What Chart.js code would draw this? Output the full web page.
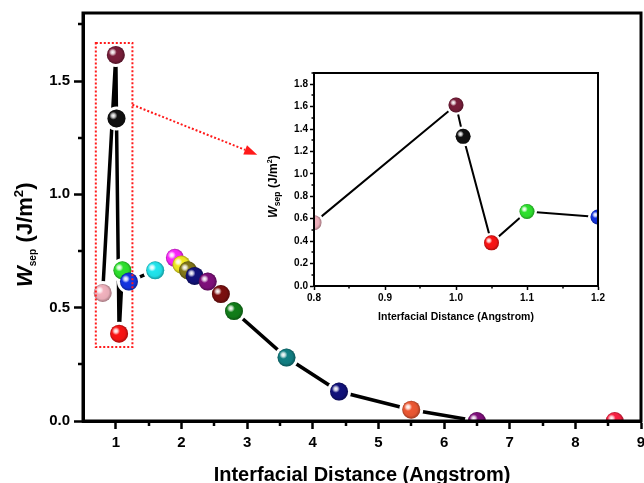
<!DOCTYPE html>
<html>
<head>
<meta charset="utf-8">
<script src="https://cdn.jsdelivr.net/npm/chart.js@4"></script>
<style>
  body { margin: 0; background: #fff; overflow: hidden; }
  #wrap { position: relative; width: 644px; height: 483px; overflow: hidden; }
  #mainChart { position: absolute; left: 0; top: 0; }
  #insetChart { position: absolute; left: 260px; top: 60px; }
</style>
</head>
<body>
<div id="wrap">
  <canvas id="mainChart" width="652" height="483"></canvas>
  <canvas id="insetChart" width="384" height="270"></canvas>
</div>
<script>
// Interfacial distance (Angstrom) and separation work (J/m2)
const distances = [0.8, 1.0, 1.01, 1.05, 1.1, 1.2, 1.6, 1.9, 2.0, 2.1, 2.2, 2.4, 2.6, 2.8, 3.6, 4.4, 5.5, 6.5, 8.6];
const wsep = [0.565, 1.615, 1.335, 0.385, 0.665, 0.615, 0.665, 0.72, 0.69, 0.665, 0.64, 0.615, 0.56, 0.485, 0.28, 0.13, 0.05, 0, 0];
const sphereColors = [
  "#f6b6c2", "#7c1f3c", "#111111", "#ff1414", "#2ee62e", "#1434e6",
  "#22eaf2", "#ff28ff", "#f6ee22", "#857a1a", "#12127e", "#82107e",
  "#7e1010", "#12801a", "#128286", "#12127e", "#f25a34", "#82107e", "#ff2244",
];
const insetCount = 6; // first points shown in the zoomed inset

const FONT = "'Liberation Sans', Arial, sans-serif";

function drawSphere(ctx, x, y, r, color) {
  ctx.beginPath();
  ctx.arc(x, y, r, 0, Math.PI * 2);
  ctx.fillStyle = color;
  ctx.fill();
  const shade = ctx.createRadialGradient(x - r * 0.3, y - r * 0.3, r * 0.2, x, y, r);
  shade.addColorStop(0, "rgba(0,0,0,0)");
  shade.addColorStop(0.7, "rgba(0,0,0,0.06)");
  shade.addColorStop(1, "rgba(0,0,0,0.35)");
  ctx.fillStyle = shade;
  ctx.fill();
  const hx = x - r * 0.35, hy = y - r * 0.3;
  const hl = ctx.createRadialGradient(hx, hy, 0, hx, hy, r * 0.45);
  hl.addColorStop(0, "rgba(255,255,255,1)");
  hl.addColorStop(0.45, "rgba(255,255,255,0.75)");
  hl.addColorStop(1, "rgba(255,255,255,0)");
  ctx.fillStyle = hl;
  ctx.fill();
}

// rotated "W_sep (J/m^2)" title
function drawWsepTitle(ctx, x, y, s) {
  ctx.save();
  ctx.translate(x, y);
  ctx.rotate(-Math.PI / 2);
  ctx.fillStyle = "#000";
  ctx.textBaseline = "alphabetic";
  ctx.textAlign = "left";
  let px = 0;
  ctx.font = `italic bold ${s.w}px ${FONT}`;
  ctx.fillText("W", px, 0);
  px += ctx.measureText("W").width;
  ctx.font = `bold ${s.sub}px ${FONT}`;
  ctx.fillText("sep", px, s.sub * 0.4);
  px += ctx.measureText("sep").width + s.unit * 0.3;
  ctx.font = `bold ${s.unit}px ${FONT}`;
  ctx.fillText("(J/m", px, 0);
  px += ctx.measureText("(J/m").width;
  ctx.font = `bold ${s.unit * 0.6}px ${FONT}`;
  ctx.fillText("2", px, -s.unit * 0.42);
  px += ctx.measureText("2").width;
  ctx.font = `bold ${s.unit}px ${FONT}`;
  ctx.fillText(")", px, 0);
  ctx.restore();
}

function minorTicks(chart, xMinor, yMinor, len, width) {
  const ctx = chart.ctx;
  const { x, y } = chart.scales;
  const area = chart.chartArea;
  ctx.save();
  ctx.strokeStyle = "#000";
  ctx.lineWidth = width;
  ctx.beginPath();
  xMinor.forEach((v) => {
    const px = Math.round(x.getPixelForValue(v));
    ctx.moveTo(px, area.bottom);
    ctx.lineTo(px, area.bottom + len);
  });
  yMinor.forEach((v) => {
    const py = Math.round(y.getPixelForValue(v));
    ctx.moveTo(area.left, py);
    ctx.lineTo(area.left - len, py);
  });
  ctx.stroke();
  ctx.restore();
}

// spheres + frame + titles
function decorPlugin(cfg) {
  return {
    id: "decor",
    afterDatasetsDraw(chart) {
      const ctx = chart.ctx;
      const a = chart.chartArea;
      const pts = chart.getDatasetMeta(0).data;
      ctx.save();
      ctx.beginPath();
      ctx.rect(a.left, a.top, a.right - a.left, a.bottom - a.top);
      ctx.clip();
      // white gap around symbols
      pts.forEach((p) => {
        ctx.beginPath();
        ctx.arc(p.x, p.y, cfg.r + cfg.gap, 0, Math.PI * 2);
        ctx.fillStyle = "#fff";
        ctx.fill();
      });
      pts.forEach((p, i) => drawSphere(ctx, p.x, p.y, cfg.r, sphereColors[i]));
      ctx.restore();

      ctx.save();
      ctx.strokeStyle = "#000";
      ctx.lineWidth = cfg.frame;
      ctx.strokeRect(a.left, a.top, a.right - a.left, a.bottom - a.top);
      ctx.restore();
      minorTicks(chart, cfg.xMinor, cfg.yMinor, cfg.minorLen, cfg.minorWidth);
    },
    afterDraw(chart) {
      const ctx = chart.ctx;
      const a = chart.chartArea;
      drawWsepTitle(ctx, cfg.yTitleX, cfg.yTitleY, cfg.yTitle);
      ctx.save();
      ctx.fillStyle = "#000";
      ctx.font = `bold ${cfg.xTitleSize}px ${FONT}`;
      ctx.textAlign = "center";
      ctx.textBaseline = "alphabetic";
      ctx.fillText("Interfacial Distance (Angstrom)", (a.left + a.right) / 2, cfg.xTitleY);
      ctx.restore();
      if (cfg.extra) cfg.extra(chart);
    },
  };
}

// red dotted box round the low-distance points, with an arrow to the inset
function drawZoomMarker(chart) {
  const ctx = chart.ctx;
  const { x, y } = chart.scales;
  const x0 = x.getPixelForValue(0.695), x1 = x.getPixelForValue(1.253);
  const y0 = y.getPixelForValue(1.668), y1 = y.getPixelForValue(0.326);
  ctx.save();
  ctx.strokeStyle = "#ff1a1a";
  ctx.fillStyle = "#ff1a1a";
  ctx.lineWidth = 2;
  ctx.setLineDash([2, 2]);
  ctx.strokeRect(x0, y0, x1 - x0, y1 - y0);
  const sx = x1, sy = y.getPixelForValue(1.395);
  const tx = x.getPixelForValue(3.154), ty = y.getPixelForValue(1.175);
  const ang = Math.atan2(ty - sy, tx - sx);
  const bx = tx - 13 * Math.cos(ang), by = ty - 13 * Math.sin(ang);
  ctx.beginPath();
  ctx.moveTo(sx, sy);
  ctx.lineTo(bx, by);
  ctx.stroke();
  ctx.setLineDash([]);
  ctx.beginPath();
  ctx.moveTo(tx, ty);
  ctx.lineTo(bx + 5 * Math.sin(ang), by - 5 * Math.cos(ang));
  ctx.lineTo(bx - 5 * Math.sin(ang), by + 5 * Math.cos(ang));
  ctx.closePath();
  ctx.fill();
  ctx.restore();
}

// major ticks at every multiple of step inside [min, max]
function stepTicks(min, max, step) {
  return (scale) => {
    const ticks = [];
    const first = Math.ceil(min / step - 1e-9);
    const last = Math.floor(max / step + 1e-9);
    for (let k = first; k <= last; k++) ticks.push({ value: +(k * step).toFixed(6) });
    scale.ticks = ticks;
  };
}

function axisOptions(o) {
  return {
    type: "linear",
    min: o.min,
    max: o.max,
    afterBuildTicks: stepTicks(o.min, o.max, o.step),
    afterFit: o.afterFit,
    ticks: {
      stepSize: o.step,
      color: "#000",
      padding: o.pad,
      font: { family: FONT, weight: "bold", size: o.font },
      callback: (v) => (o.digits ? Number(v).toFixed(o.digits) : String(Math.round(v))),
    },
    grid: {
      drawOnChartArea: false,
      tickLength: o.tickLen,
      tickWidth: o.tickWidth,
      tickColor: "#000",
    },
    border: { display: true, color: "#000", width: o.frame },
  };
}

const points = distances.map((d, i) => ({ x: d, y: wsep[i] }));
const lastIndex = distances.length - 1;

new Chart(document.getElementById("mainChart"), {
  type: "scatter",
  data: {
    datasets: [
      {
        data: points,
        showLine: true,
        borderColor: "#000",
        borderWidth: 3.5,
        pointRadius: 0,
        segment: {
          borderColor: (ctx) => (ctx.p1DataIndex === lastIndex ? "rgba(0,0,0,0)" : "#000"),
        },
      },
    ],
  },
  options: {
    responsive: false,
    devicePixelRatio: 1,
    animation: false,
    layout: { padding: { top: 12, right: 11, left: 0, bottom: 0 } },
    plugins: { legend: { display: false }, tooltip: { enabled: false } },
    scales: {
      x: axisOptions({ min: 0.5, max: 9, step: 1, font: 15, pad: 5, tickLen: 8, tickWidth: 2.5, frame: 3,
        afterFit: (s) => { s.height = 62; } }),
      y: axisOptions({ min: 0, max: 1.8, step: 0.5, digits: 1, font: 15, pad: 4, tickLen: 9, tickWidth: 2.5, frame: 3,
        afterFit: (s) => { s.width = 83; } }),
    },
  },
  plugins: [
    decorPlugin({
      r: 9, gap: 3, frame: 3,
      xMinor: [1.5, 2.5, 3.5, 4.5, 5.5, 6.5, 7.5, 8.5],
      yMinor: [0.25, 0.75, 1.25, 1.75],
      minorLen: 5, minorWidth: 2.5,
      yTitleX: 32, yTitleY: 287, yTitle: { w: 22, sub: 10, unit: 22 },
      xTitleSize: 20, xTitleY: 481,
      extra: drawZoomMarker,
    }),
  ],
});

new Chart(document.getElementById("insetChart"), {
  type: "scatter",
  data: {
    datasets: [
      {
        data: points.slice(0, insetCount),
        showLine: true,
        borderColor: "#000",
        borderWidth: 2,
        pointRadius: 0,
      },
    ],
  },
  options: {
    responsive: false,
    devicePixelRatio: 1,
    animation: false,
    layout: { padding: { top: 13, right: 46, left: 0, bottom: 0 } },
    plugins: { legend: { display: false }, tooltip: { enabled: false } },
    scales: {
      x: axisOptions({ min: 0.8, max: 1.2, step: 0.1, digits: 1, font: 10, pad: 2, tickLen: 4, tickWidth: 1.5, frame: 2,
        afterFit: (s) => { s.height = 44; } }),
      y: axisOptions({ min: 0, max: 1.9, step: 0.2, digits: 1, font: 10, pad: 2, tickLen: 4, tickWidth: 1.5, frame: 2,
        afterFit: (s) => { s.width = 54; } }),
    },
  },
  plugins: [
    decorPlugin({
      r: 7.5, gap: 2.5, frame: 2,
      xMinor: [0.85, 0.95, 1.05, 1.15],
      yMinor: [0.1, 0.3, 0.5, 0.7, 0.9, 1.1, 1.3, 1.5, 1.7, 1.9],
      minorLen: 2.5, minorWidth: 1.5,
      yTitleX: 17, yTitleY: 158, yTitle: { w: 12.5, sub: 8.5, unit: 12 },
      xTitleSize: 10.5, xTitleY: 260,
    }),
  ],
});
</script>
</body>
</html>
